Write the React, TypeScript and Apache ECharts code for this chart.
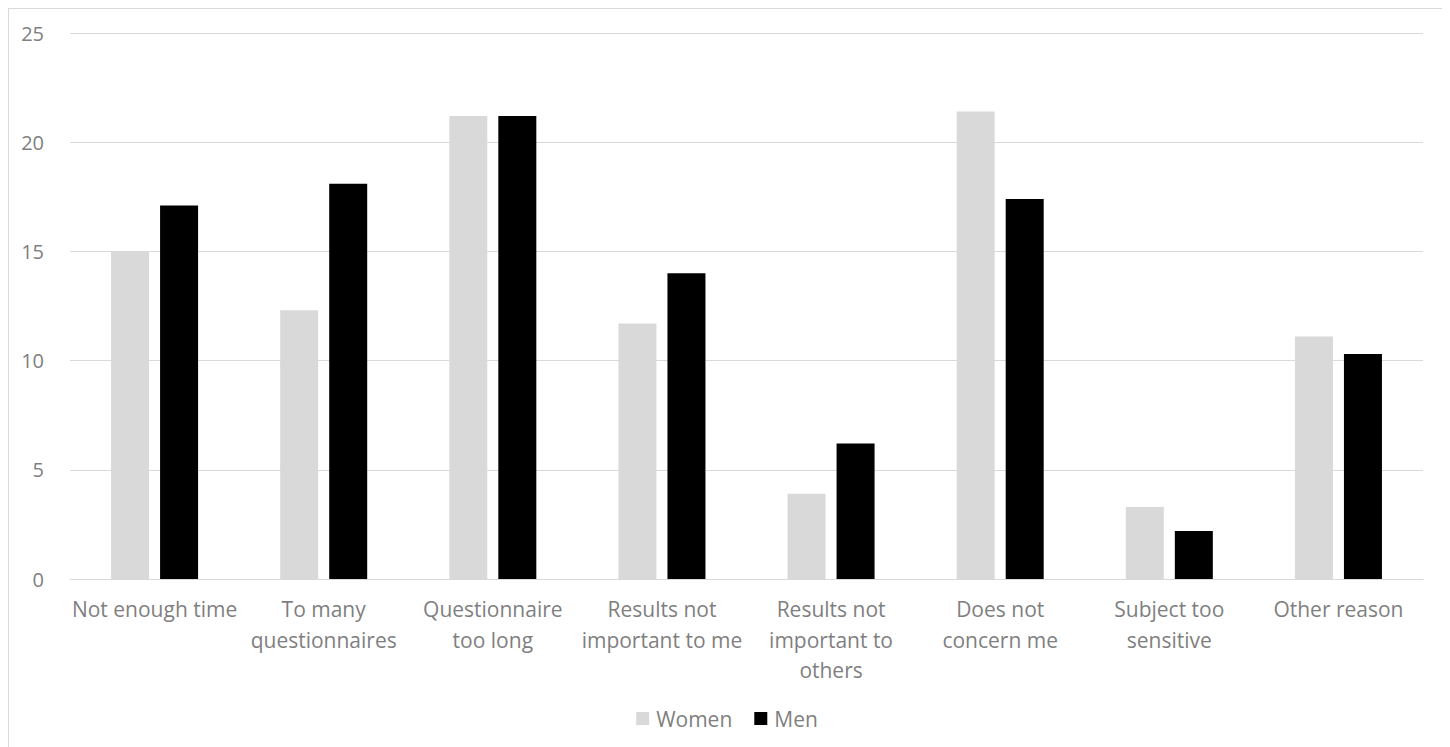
import React, { useEffect, useRef } from "react";
import * as echarts from "echarts";

const categories = [
  "Not enough time",
  "To many\nquestionnaires",
  "Questionnaire\ntoo long",
  "Results not\nimportant to me",
  "Results not\nimportant to\nothers",
  "Does not\nconcern me",
  "Subject too\nsensitive",
  "Other reason",
];
const women = [15.0, 12.3, 21.2, 11.7, 3.9, 21.4, 3.3, 11.1];
const men = [17.1, 18.1, 21.2, 14.0, 6.2, 17.4, 2.2, 10.3];

const FONT = "'Open Sans', 'Noto Sans', sans-serif";

export default function App() {
  const ref = useRef<HTMLDivElement>(null);
  useEffect(() => {
    if (!ref.current) return;
    const chart = echarts.init(ref.current, undefined, { renderer: "svg" });
    chart.setOption({
      animation: false,
      backgroundColor: "#ffffff",
      textStyle: { fontFamily: FONT },
      grid: { left: 61, right: 22, top: 24, bottom: 168, containLabel: false },
      legend: {
        data: ["Women", "Men"],
        bottom: 13,
        left: "center",
        itemWidth: 13,
        itemHeight: 13,
        itemGap: 22,
        icon: "rect",
        textStyle: { fontSize: 21, color: "#7f7f7f", fontFamily: FONT, padding: [0, 0, 0, 2] },
      },
      xAxis: {
        type: "category",
        data: categories,
        axisLine: { lineStyle: { color: "#d9d9d9", width: 1 } },
        axisTick: { show: false },
        axisLabel: {
          fontSize: 21,
          color: "#7f7f7f",
          margin: 15,
          lineHeight: 30.5,
          interval: 0,
          fontFamily: FONT,
        },
      },
      yAxis: {
        type: "value",
        min: 0,
        max: 25,
        interval: 5,
        axisLine: { show: false },
        axisTick: { show: false },
        splitLine: { lineStyle: { color: "#d9d9d9", width: 1 } },
        axisLabel: { fontSize: 20, color: "#7f7f7f", margin: 26, fontFamily: FONT },
      },
      series: [
        {
          name: "Women",
          type: "bar",
          data: women,
          barWidth: 38,
          barGap: "29%",
          itemStyle: { color: "#d9d9d9" },
        },
        {
          name: "Men",
          type: "bar",
          data: men,
          barWidth: 38,
          itemStyle: { color: "#000000" },
        },
      ],
    });
    return () => chart.dispose();
  }, []);
  return (
    <div
      ref={ref}
      style={{
        width: 1438,
        height: 739,
        boxSizing: "border-box",
        borderTop: "1px solid #d9d9d9",
        borderLeft: "1px solid #d9d9d9",
        borderRight: "1px solid #d9d9d9",
      }}
    />
  );
}
